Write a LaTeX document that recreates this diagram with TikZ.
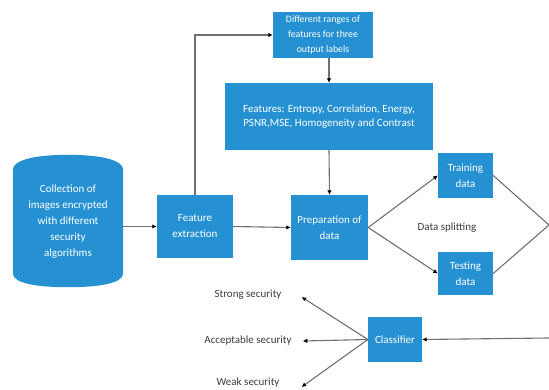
\documentclass[tikz,border=0pt]{standalone}
\usepackage{fontspec}
\setmainfont{Carlito}
\usetikzlibrary{arrows.meta,backgrounds}

\definecolor{boxblue}{RGB}{38,145,210}
\definecolor{linegray}{RGB}{112,112,112}
\definecolor{textgray}{RGB}{60,60,60}

\tikzset{
		block/.style={fill=boxblue, text=white, align=center, inner sep=0pt, font=\fontsize{11}{16}\selectfont},
		outtext/.style={text=textgray, inner sep=0pt, font=\fontsize{11}{13}\selectfont},
		line/.style={draw=linegray, line width=1.1pt},
		arrow/.style={line, -{Latex[length=4.5pt,width=4.5pt,color=black]}}
	}

\begin{document}
\begin{tikzpicture}[x=1pt,y=-1pt]

\useasboundingbox (0,0) rectangle (549,390);

\node (coll) at (68,221.5) [block,minimum width=110pt,minimum height=103pt] {Collection of\\images encrypted\\with different\\security\\algorithms};
\begin{scope}[on background layer]
\fill[boxblue] (coll.south west) -- (coll.north west)
  .. controls ([yshift=10pt]coll.north west) and ([xshift=-32pt,yshift=15pt]coll.north) .. ([yshift=15pt]coll.north)
  .. controls ([xshift=32pt,yshift=15pt]coll.north) and ([yshift=10pt]coll.north east) .. (coll.north east)
  -- (coll.south east)
  .. controls ([yshift=-10pt]coll.south east) and ([xshift=32pt,yshift=-14pt]coll.south) .. ([yshift=-14pt]coll.south)
  .. controls ([xshift=-32pt,yshift=-14pt]coll.south) and ([yshift=-10pt]coll.south west) .. cycle;
\end{scope}

\node (fext) at (195,226.5) [block,minimum width=76pt,minimum height=63pt] {Feature\\extraction};
\node (diff) at (323,35) [block,minimum width=100pt,minimum height=46pt,font=\fontsize{9.8}{15}\selectfont] {Different ranges of\\features for three\\output labels};
\node (feat) at (329,116.5) [block,minimum width=208pt,minimum height=67pt,font=\fontsize{11}{13.5}\selectfont] {Features: Entropy, Correlation, Energy,\\PSNR,MSE, Homogeneity and Contrast};
\node (prep) at (329.5,227.5) [block,minimum width=77pt,minimum height=65pt] {Preparation of\\data};
\node (train) at (465.5,175.5) [block,minimum width=55pt,minimum height=45pt] {Training\\data};
\node (test) at (465.5,273.5) [block,minimum width=55pt,minimum height=43pt] {Testing\\data};
\node (clsf) at (395,339.5) [block,minimum width=54pt,minimum height=45pt] {Classifier};

\node (split) at (447,228) [outtext] {Data splitting};
\node (strong) at (248,295) [outtext] {Strong security};
\node (accept) at (248,341) [outtext] {Acceptable security};
\node (weak) at (248,383) [outtext] {Weak security};

\coordinate (rtop) at (549,225);
\coordinate (rbot) at (549,338);

\draw [arrow] (fext.west -| coll.east) -- (fext.west);
\draw [arrow] (fext.north) |- (diff.west);
\draw [arrow] (diff.south -| feat.north) -- (feat.north);
\draw [arrow] (feat.south) -- (prep.north);
\draw [arrow] (fext.east) -- (prep.west);
\draw [arrow] (prep.east) -- (train.west);
\draw [arrow] (prep.east) -- (test.west);
\draw [line] (train.east) -- (rtop);
\draw [line] (test.east) -- (rtop);
\draw [arrow] (rbot) -- (clsf.east);
\draw [arrow] (clsf.west) -- ([xshift=20pt,yshift=-2pt]strong.east);
\draw [arrow] (clsf.west) -- ([xshift=11pt]accept.east);
\draw [arrow] (clsf.west) -- ([xshift=22pt,yshift=-4pt]weak.east);

\end{tikzpicture}
\end{document}
